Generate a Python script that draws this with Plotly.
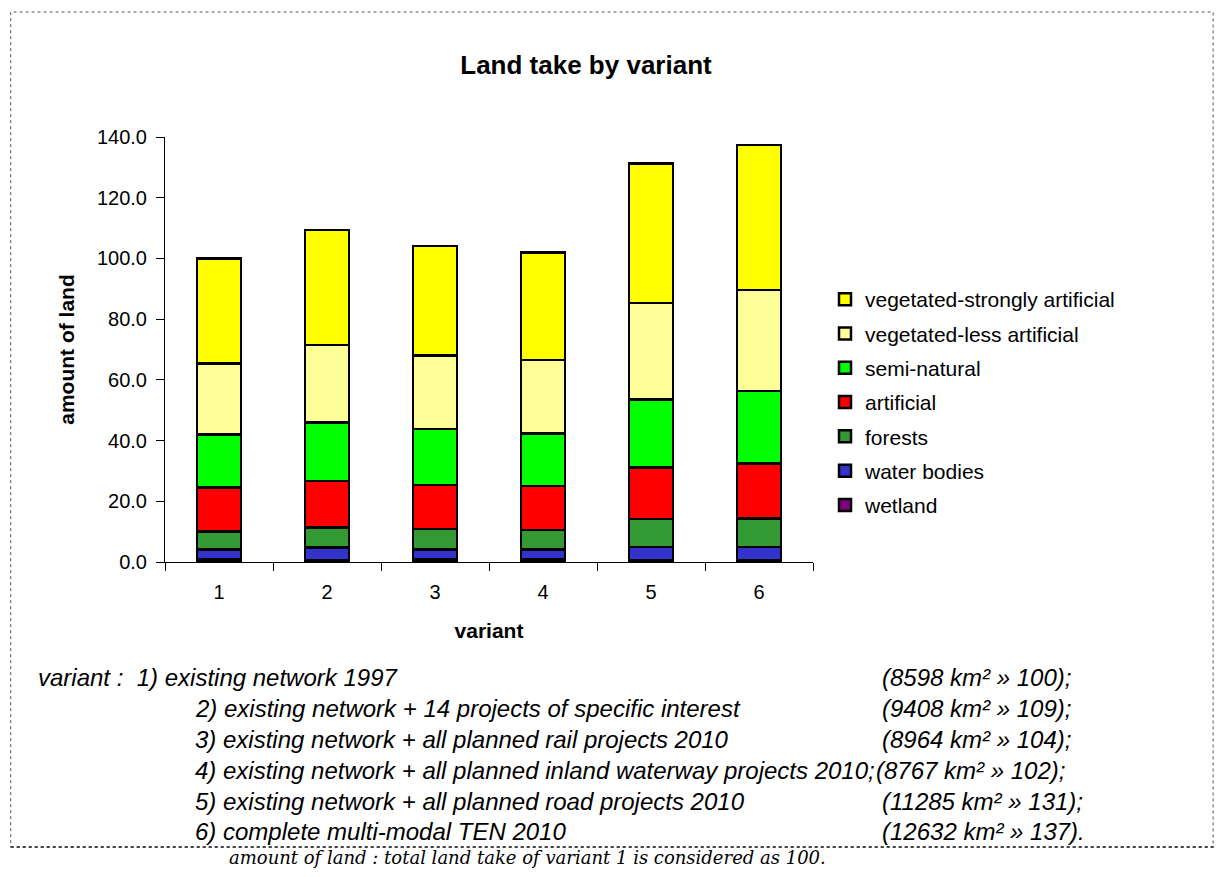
import plotly.graph_objects as go

variants = ["1", "2", "3", "4", "5", "6"]
wetland = [0.9, 0.6, 0.9, 0.8, 0.7, 0.7]
water_bodies = [3.3, 4.2, 3.3, 3.4, 4.3, 4.3]
forests = [5.8, 6.5, 6.6, 6.3, 9.1, 9.4]
artificial = [14.5, 15.4, 14.6, 14.5, 17.1, 18.1]
semi_natural = [17.5, 19.3, 18.4, 17.4, 22.4, 23.8]
veg_less = [23.4, 25.5, 24.2, 24.1, 31.8, 33.3]
veg_strong = [34.6, 37.9, 36.1, 35.4, 45.9, 47.7]

series = [
    ("wetland", wetland, "#800080"),
    ("water bodies", water_bodies, "#3333CC"),
    ("forests", forests, "#339933"),
    ("artificial", artificial, "#FF0000"),
    ("semi-natural", semi_natural, "#00FF00"),
    ("vegetated-less artificial", veg_less, "#FFFF99"),
    ("vegetated-strongly artificial", veg_strong, "#FFFF00"),
]

notes_left = [
    "variant :  1) existing network 1997",
    "2) existing network + 14 projects of specific interest",
    "3) existing network + all planned rail projects 2010",
    "4) existing network + all planned inland waterway projects 2010;",
    "5) existing network + all planned road projects 2010",
    "6) complete multi-modal TEN 2010",
]
notes_right = [
    "(8598 km² » 100);",
    "(9408 km² » 109);",
    "(8964 km² » 104);",
    "(8767 km² » 102);",
    "(11285 km² » 131);",
    "(12632 km² » 137).",
]
footer = "amount of land : total land take of variant 1 is considered as 100."

# page has an 8px body margin; figure is sized so that screen px = figure px + 8
OFF = 8
W, H = 1223 - 2 * OFF, 877 - 2 * OFF
PL, PR, PT, PB = 165, 816, 137, 562  # plot area in screen pixels


def px(X):
    return (X - PL) / (PR - PL)


def py(Y):
    return (PB - Y) / (PB - PT)


fig = go.Figure()
n = len(series)
for i, (name, vals, col) in enumerate(series):
    fig.add_trace(go.Bar(
        x=variants, y=vals, name=name, legendgroup=name, legendrank=n - i,
        marker=dict(color=col, line=dict(color="black", width=2.5)),
    ))

fig.update_layout(
    width=W, height=H,
    barmode="stack", bargap=0.595,
    paper_bgcolor="white", plot_bgcolor="white",
    margin=dict(l=PL - OFF, r=W - (PR - OFF), t=PT - OFF, b=H - (PB - OFF)),
    font=dict(family="Liberation Sans, Arial, sans-serif", size=20, color="black"),
    title=dict(text="<b>Land take by variant</b>", x=(586 - OFF) / W, xanchor="center",
               y=1 - (65 - OFF) / H, yanchor="middle", xref="container", yref="container",
               font=dict(size=26)),
    legend=dict(x=(825 - OFF) / W, xref="container", y=1 - (279 - OFF) / H, yref="container",
                xanchor="left", yanchor="top", traceorder="grouped",
                tracegroupgap=4, font=dict(size=21), itemwidth=30,
                bgcolor="rgba(0,0,0,0)"),
    showlegend=True,
)
fig.update_xaxes(type="category", showline=True, linecolor="black", linewidth=1,
                 ticks="outside", ticklen=8, tickcolor="black", tickson="boundaries",
                 ticklabelstandoff=12,
                 title=dict(text="<b>variant</b>", standoff=21, font=dict(size=21)),
                 tickfont=dict(size=20), showgrid=False)
fig.update_yaxes(range=[0, 140], dtick=20, tickformat=".1f", showline=True,
                 linecolor="black", linewidth=1, ticks="outside", ticklen=8,
                 tickcolor="black", showgrid=False, zeroline=False,
                 ticklabelstandoff=5,
                 title=dict(text="<b>amount of land</b>", standoff=16, font=dict(size=21)),
                 tickfont=dict(size=20))

line_y = [677, 708, 739, 770, 801, 831]
for i in range(6):
    x_left = 35 if i == 0 else 193
    fig.add_annotation(text=f"<i>{notes_left[i]}</i>", x=px(x_left), y=py(line_y[i]),
                       xref="paper", yref="paper", xanchor="left", yanchor="middle",
                       showarrow=False, font=dict(size=24))
    x_right = 877 if i == 3 else 883
    fig.add_annotation(text=f"<i>{notes_right[i]}</i>", x=px(x_right), y=py(line_y[i]),
                       xref="paper", yref="paper", xanchor="left", yanchor="middle",
                       showarrow=False, font=dict(size=24))

fig.add_annotation(text=f"<i>{footer}</i>", x=px(228), y=py(857), borderpad=0,
                   xref="paper", yref="paper", xanchor="left", yanchor="middle",
                   showarrow=False, font=dict(size=18, family="DejaVu Serif, serif"))

# dotted chart-area border
fig.add_shape(type="rect", xref="paper", yref="paper",
              x0=px(10), x1=px(1218), y0=py(847), y1=py(12),
              line=dict(color="#555555", width=1, dash="dot"), layer="below")
fig.add_shape(type="line", xref="paper", yref="paper",
              x0=px(10), x1=px(1221), y0=py(847), y1=py(847),
              line=dict(color="#444444", width=2, dash="dot"))

fig.write_html("out.html")
